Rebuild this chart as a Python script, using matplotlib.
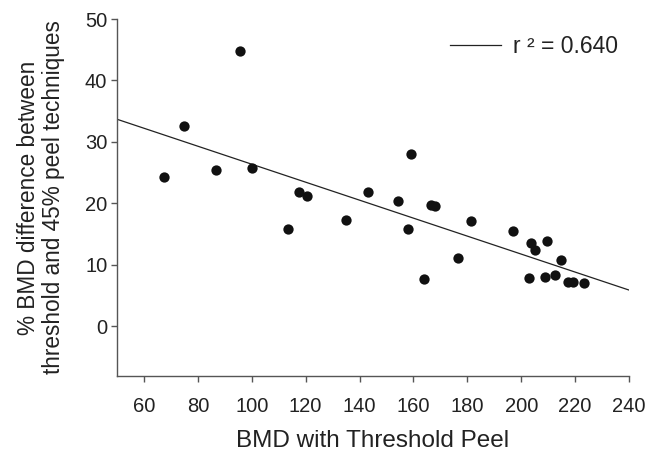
import matplotlib
matplotlib.use("Agg")
import matplotlib.pyplot as plt
import numpy as np

plt.rcParams['font.family'] = ['Liberation Sans', 'DejaVu Sans']

# Data
bmd_threshold = [67.4, 74.7, 86.6, 95.6, 100.0, 113.6, 117.5, 120.4, 135.1, 143.3,
                 154.3, 157.9, 159.1, 164.0, 166.4, 168.0, 176.4, 181.2, 197.1, 202.9,
                 203.8, 205.3, 208.7, 209.5, 212.4, 214.9, 217.5, 219.4, 223.4]
bmd_diff_pct = [24.3, 32.6, 25.5, 44.8, 25.8, 15.8, 21.9, 21.2, 17.3, 21.9,
                20.3, 15.8, 28.0, 7.7, 19.7, 19.5, 11.1, 17.1, 15.5, 7.9,
                13.5, 12.4, 8.0, 13.9, 8.4, 10.8, 7.2, 7.2, 7.0]
fit_intercept = 41.0
fit_slope = -0.1463
fit_label = "r \u00b2 = 0.640"
x_ticks = [60, 80, 100, 120, 140, 160, 180, 200, 220, 240]
y_ticks = [0, 10, 20, 30, 40, 50]

fig = plt.figure(figsize=(6.6, 4.57), dpi=100)
ax = fig.add_axes([117/660, 1 - 376/457, (629-117)/660, (376-19)/457])

ax.scatter(bmd_threshold, bmd_diff_pct, s=55, color='#111111', zorder=3, linewidths=0)
xl = np.array([50, 240])
line, = ax.plot(xl, fit_intercept + fit_slope * xl, color='#222222', lw=0.9, label=fit_label)

ax.set_xlim(50, 240)
ax.set_ylim(-8.1, 50)
ax.set_xticks(x_ticks)
ax.set_yticks(y_ticks)

for s in ['top', 'right']:
    ax.spines[s].set_visible(False)
for s in ['left', 'bottom']:
    ax.spines[s].set_color('#555555')
    ax.spines[s].set_linewidth(1.0)

ax.tick_params(axis='both', colors='#555555', labelcolor='#222222', labelsize=14.5, length=4, width=1.0)
ax.tick_params(axis='x', pad=11)
ax.tick_params(axis='y', pad=3)

ax.set_xlabel("BMD with Threshold Peel", fontsize=17.5, color='#222222', labelpad=10)
ax.set_ylabel("% BMD difference between\nthreshold and 45% peel techniques", fontsize=16.3,
              color='#222222', labelpad=14, linespacing=1.12)

leg = ax.legend(handles=[line], loc='upper right', frameon=False, fontsize=16.5,
                handlelength=2.25, handletextpad=0.5, borderaxespad=0.0,
                bbox_to_anchor=(0.996, 0.982))
for t in leg.get_texts():
    t.set_color('#222222')

fig.savefig("out.png", dpi=100)
